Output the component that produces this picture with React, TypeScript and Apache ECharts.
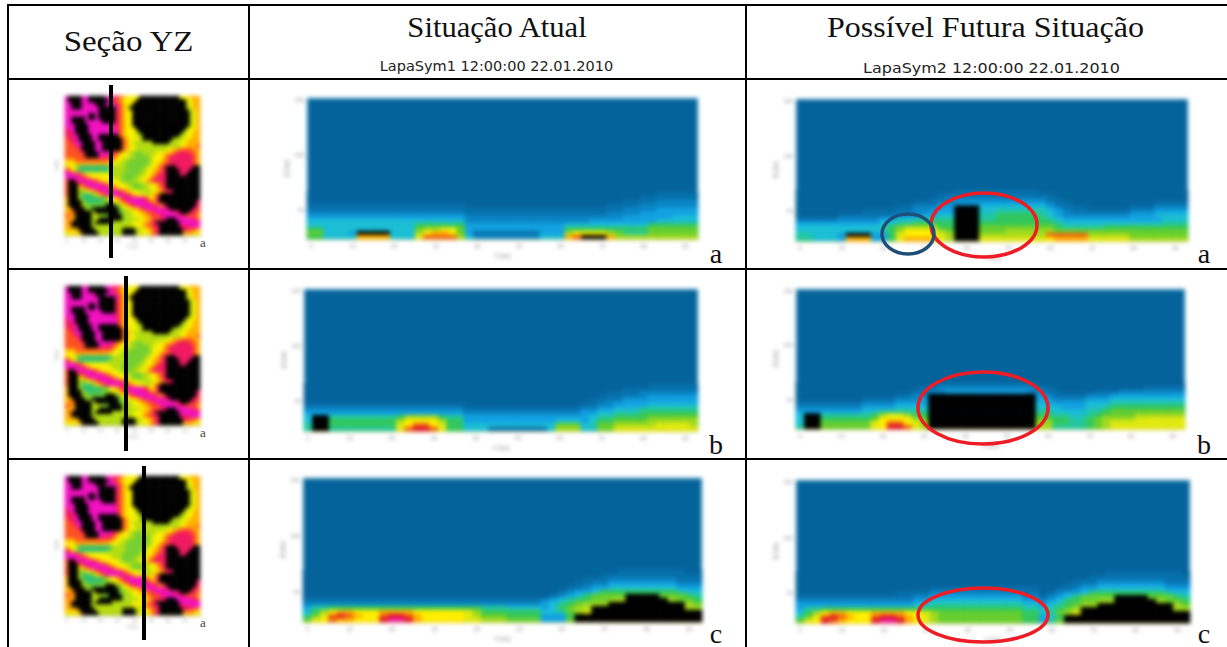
import React, { useEffect, useRef } from "react";
import * as echarts from "echarts";

// Cross-section rows, top to bottom. Each token is a literal run of levels, or "<level>x<count>".
const sectionAtualA = [
  "0x42 1x5",
  "0x40 1x7",
  "0x38 1x4 2x5",
  "1x19 0x17 1x4 2x7",
  "1x38 2x4 3x5",
  "2x19 1x17 2x4 3x7",
  "3x19 2x19 3x6 4x3",
  "4x13 4x6 2x15 3x8 4x5",
  "4x13 6x6 3x12 4x10 6x6",
  "66 4x11 7 8899 7 3x12 6x10 7x6",
  "77 444 3 ffff 4 44 8 abba 7 3 1x8 333 8aaaa8 7 555 7x6",
  "66 444 4 bbbb 4 44 9 cccc 8 4 2x8 444 bcfffb 88 888 8x5",
];
const sectionAtualB = [
  "0x41 1x6",
  "0x38 1x9",
  "0x36 1x4 2x7",
  "0x35 1x3 2x3 3x6",
  "0x34 1x2 2x2 3x9",
  "1x19 0x14 1x2 2x2 3x4 4x6",
  "2x19 1x14 2x2 3x2 4x3 5x7",
  "3x19 2x14 3x2 4x2 5x3 6x7",
  "4ff 5x8 6 8888 6 55 3x15 4 55 6666 777777",
  "4ff 6x8 8 aaaa 8 66 3x11 444 3 4 66 7777 888888",
  "5ff 6x8 9 acca 9 66 4x11 777 4 5 77 8888 899998",
  "5ff 5x8 9 cddc 9 66 444 1x7 4 888 4 4 77 9999 999999",
];
const sectionAtualC = [
  "0x37 1x8 00",
  "0x35 1x12",
  "0x33 1x3 2x8 1x3",
  "0x32 1x2 2x2 3x8 2x3",
  "0x31 1x2 2 3x2 4x8 3x3",
  "0x30 1 2 3x2 4 6x9 5 4x2",
  "0x29 1 2 3 4 6 7777 ffff 777 65",
  "1x28 2 3 4 5 667788 fffff 8776",
  "2x28 3 4 5 6 7 88 8 fx9 87",
  "3 55 6x18 5x3 4x4 3 4 6 7 8 8 fx11 88",
  "468 abb aaa bbbb aaaaaa 98 6x7 44 5 7 89 fx13",
  "579 cdc baa cddc baaaaa 98 7776666 333 6 fx15",
  "79a cbb aaa deed baaaaa 99 8887777 333 7 fx15",
];
const sectionFuturaA = [
  "0x19 1x10 0x18",
  "0x17 1x14 0x16",
  "0x16 1x2 2x12 1x2 0x15",
  "0x14 1x3 2x2 3x11 2 1x2 0x10 1x4",
  "0x12 1x2 2x3 3x2 fff 4x8 3 2 1x3 0x5 1x3 2x4",
  "0x8 1x6 2x2 3x3 fff 4x2 5x6 4 3 2 1x7 2x3 3x4",
  "0x5 1x7 2x3 3x2 4x2 fff 5x2 6x5 5 4 3 2x8 3x3 4x4",
  "1x5 2x5 33 444 5555 fff 55 6x6 5 4 3x12 444",
  "3x10 44 55 66666 fff 6x8 6 5 4x12 555",
  "4x10 5 6 7 8888 6 6 fff 7x8 7 6 5x5 6x10",
  "4x11 6 8 aaaa 8 7 fff 777 8x5 8 7x6 7x10",
  "55 444 3 fff 33 6 9 aaaa 9 8 fff 8x8 c cccc 8x5 7x7",
  "55 444 3 bbb 33 6 9 bbbb 9 8 fff 9x8 a bbbb 9x5 8x7",
];
const sectionFuturaB = [
  "0x17 1x12 0x18",
  "0x15 1x2 2x12 1x2 0x11 1x5",
  "0x14 1x2 2x2 3x10 2x2 1x2 0x4 1x3 2x8",
  "0x12 1x2 2x2 fx13 3 2 1x4 2x3 3x9",
  "0x8 1x4 2x3 3 fx13 3x2 2x2 2x2 3x3 4x9",
  "1x8 2x4 3x3 3 fx13 4 3x3 3x2 4x3 5x9",
  "2x8 3x4 4x3 4 fx13 4x3 3x3 4x2 5 6x9",
  "3x8 4x2 5x2 5x3 5 fx13 5x2 4x4 5x2 6 7x9",
  "4ff 5x6 6 8 9 9 8 6x2 fx13 6x2 5x2 4x2 5 6 7 7x3 8x6",
  "4ff 6x6 7 aaaa 8 7 fx13 7x2 6x2 5x2 6 7 8 8x3 9x6",
  "4ff 7x6 9 a c c a 9 8 fx13 8x2 6x2 5x2 6 7 8 9x9",
  "5ff 7x6 9 a d d c 9 8 fx13 8x2 5x4 6 7 8 9x9",
];
const sectionFuturaC = [
  "0x37 1x9 0",
  "0x35 1x12",
  "0x33 1x3 2x8 1x3",
  "0x32 1x2 2x2 3x8 2x3",
  "0x16 1x13 0x2 1x2 2 3x2 4x8 3x3",
  "0x12 1x4 2x11 1x2 0 1 2 3x2 4 6x9 5 4x2",
  "1x14 2x2 3x11 2x2 1 2 3 4 6 7x4 fx4 7x3 6 5",
  "2x14 3x2 4x11 3x2 2 3 4 667788 fx5 8776",
  "3x14 4x2 5x11 4x2 3 4 5 6 788 fx9 87",
  "3 55 6x24 5x2 4 5 6 7 8 fx11 88",
  "468 abb aaa bbbb aa 98 7x10 66 4 5 7 89 fx13",
  "579 cdc baa cddc ba 98 7x10 66 3 4 6 fx15",
  "79a dcb aaa deed ba 98 7x10 66 3 5 7 fx15",
];

// Plan view shared by the three left-hand cells, rows top to bottom.
const planRows = [
  "m####mm#####mmppro yyyy #x12 yyy ooo",
  "m####mm######mpro yyyy #x15 yy oo",
  "mm###mmmm###mmmpro yy #x16 ly oo",
  "mm###mmmmm#####mro y #x17 ly oo",
  "mmmmmmmmmm#####pro yy #x17 lyo",
  "mmmmmmm##m#####pro yy #x17 lyo",
  "mm####m##m#####pro yy #x17 lyo",
  "mm####mmmmm####pro yy #x17 lyo",
  "mmm####mmmmmmmmpro yy #x17 lyo",
  "pmm####mmmmmmmmpro yyy #x15 lyyo",
  "ppm####mmmmmmmmmro yyyl #x13 lyyoo",
  "pppm####mm######ro yyyll #x11 llyyoo",
  "rppm####mm#######ro yyyl #x9 lllyyooo",
  "rrpmm####mm######ro yllllll #x5 lllyyoooo",
  "rrrpm####mm######ro yyllllllllllll lyyooo r",
  "rrrrp####mm######ro yylllllllllyyoorrrroo",
  "rrrrrp####mmmmpro yylgggllllyyyoorpppprroo",
  "rrrrrr####mpppro yyyllgggglyyyorpppppppro",
  "ooorrrrrrrrrrro yyllggggggl yyy o r ppppppp r o",
  "yyyoooooooooo yyy llgggggggl yy o rr ppppppp r o",
  "oyyl tx10 llll gggggg l yy o r p ### ppppp ##",
  "pryl tx9 lllll ggggg l yy oo r p #### ppp ###",
  "mmmproyyyyyyyllll ggggg ll yy o r pp #### pp ####",
  "mmmmmproyyyyyylll gggg ll yy o r ppp #x10",
  "r##pmmmmproyyyyyl ggg ll yy o r pppp #x10",
  "r###rpmmmmmproyyy yllgggllyyorp #x10",
  "r###yorpmmmmmproy yylgggllyyorp #x10",
  "r###lgyyorpmmmmmp royyyllllyyorpp #x9",
  "r###ltttgyorpmmmm mpro yyy l yo r #x12",
  "o###lttttttggyyor pmmmmmpryop #x12",
  "o####ltttttgglyyo rpmmmmmprop #x11 p",
  "o####lgggggg###gl yor pmmmmmp rop #x9 p",
  "oo####lg########g lyyoor pmmmmmp p #x7 pr",
  "oor#####l#######g gllyyoorr pmmmmmp p ### ppr",
  "rro#####lllgg#### lllyyyoorrr pmmmmmp prrro",
  "ooo#####ll####### gllllyyoopr pp ### mmmmm pr",
  "or######l#####lll lllyyyoorp #x7 mmmmmm",
  "oo######lllllllll lllyyyorrpp #x6 pppmmm",
  "oooo#####llllllll #### llyyorp #x7 pprro",
  "yyyyo#####lllllll #### lyyyorp #x7 oooyy",
];

const sectionLevels = "0123456789abcdef";
const sectionColors = ["#05639b", "#0670ab", "#0a86c6", "#12a2e2", "#1bbfd6", "#22c8a0", "#33c85c", "#66cf2e", "#a4da1e", "#e2ea10", "#ffee00", "#ffb000", "#f06010", "#e01030", "#f020a0", "#000000"];
const planLevels = "tglyorpm#";
const planColors = ["#30c070", "#74cf30", "#b4dc10", "#f8f000", "#ffb000", "#ff5020", "#f01860", "#f310c0", "#000000"];

const yMeterLabels = ["0", "10", "20", "30", "40", "50", "60", "70", "80", "90"];
const zTickLabels: Record<number, string> = { 7: "50", 21: "100", 35: "150" };
const planXLabels = ["0", "10", "20", "30", "40", "50", "60", "70", "80"];
const planYLabels = ["0", "10", "20", "30", "40", "50", "60", "70", "80"];

const titles = [
  { text: "Seção YZ", x: 128.5, y: 41, size: 30, stretch: 1.1 },
  { text: "Situação Atual", x: 497, y: 27, size: 30, stretch: 1.02 },
  { text: "Possível Futura Situação", x: 985.5, y: 27, size: 30, stretch: 1.07 },
];
const subtitles = [
  { text: "LapaSym1 12:00:00 22.01.2010", x: 496.5, y: 66, stretch: 1 },
  { text: "LapaSym2 12:00:00 22.01.2010", x: 991.5, y: 68, stretch: 1.1 },
];
const cornerLetters = [
  { text: "a", x: 716, y: 253 }, { text: "a", x: 1204, y: 253 },
  { text: "b", x: 716, y: 444 }, { text: "b", x: 1204, y: 444 },
  { text: "c", x: 716, y: 633 }, { text: "c", x: 1204, y: 633 },
];
const sectionLines = [
  { x: 111, y1: 85, y2: 258 },
  { x: 126, y1: 276, y2: 451 },
  { x: 144, y1: 466, y2: 640 },
];
const mapLetters = [
  { x: 203, y: 242 }, { x: 203, y: 432 }, { x: 203, y: 622 },
];
const ringMarks = [
  { cx: 984, cy: 225, rx: 53, ry: 32, color: "#ee1c25" },
  { cx: 908, cy: 234, rx: 26, ry: 20, color: "#1f4e79" },
  { cx: 983, cy: 408, rx: 65, ry: 36, color: "#ee1c25" },
  { cx: 983, cy: 615, rx: 65, ry: 27, color: "#ee1c25" },
];
const rulesH = [5, 79, 269, 459];
const rulesV = [8, 249, 746];

const sectionBoxes = [
  { rows: sectionAtualA, left: 307, top: 98, width: 391, height: 141 },
  { rows: sectionFuturaA, left: 796, top: 99, width: 392, height: 142 },
  { rows: sectionAtualB, left: 304, top: 289, width: 394, height: 142 },
  { rows: sectionFuturaB, left: 796, top: 289, width: 389, height: 140 },
  { rows: sectionAtualC, left: 303, top: 478, width: 399, height: 144 },
  { rows: sectionFuturaC, left: 796, top: 480, width: 394, height: 143 },
];
const planBoxes = [
  { left: 65, top: 96, width: 135, height: 139 },
  { left: 65, top: 286, width: 135, height: 139 },
  { left: 65, top: 476, width: 135, height: 139 },
];

function expandRow(row: string): string {
  return row
    .split(" ")
    .map((tok) => {
      const m = tok.match(/^(.)x(\d+)$/);
      return m ? m[1].repeat(Number(m[2])) : tok;
    })
    .join("");
}

function buildCells(rows: string[], levels: string, totalRows: number) {
  const cells: [number, number, number][] = [];
  rows.forEach((row, i) => {
    const rowIndex = rows.length - 1 - i;
    if (rowIndex >= totalRows) return;
    const full = expandRow(row);
    for (let c = 0; c < full.length; c++) {
      const v = levels.indexOf(full[c]);
      if (v >= 0) cells.push([c, rowIndex, v]);
    }
  });
  return cells;
}

const SECTION_COLS = 47;
const SECTION_ROWS = 36;
const PLAN_SIZE = 40;

function heatmapOption() {
  const grid: any[] = [];
  const xAxis: any[] = [];
  const yAxis: any[] = [];
  const series: any[] = [];
  const axisGray = "#9a9a9a";

  sectionBoxes.forEach((b, i) => {
    grid.push({ left: b.left, top: b.top, width: b.width, height: b.height, show: true, backgroundColor: sectionColors[0], borderColor: "#a8dcf0", borderWidth: 1 });
    xAxis.push({
      type: "category", gridIndex: i,
      data: Array.from({ length: SECTION_COLS }, (_, c) => (c % 5 === 0 ? yMeterLabels[c / 5] ?? "" : "")),
      axisLine: { lineStyle: { color: "#d8c060" } },
      axisTick: { alignWithLabel: true, interval: 4, length: 3, lineStyle: { color: axisGray } },
      axisLabel: { interval: 4, fontSize: 5, color: "#777", margin: 4, fontFamily: "DejaVu Sans" },
      name: "Y [m]", nameLocation: "middle", nameGap: 13,
      nameTextStyle: { fontSize: 6, color: "#666", fontFamily: "DejaVu Sans" },
    });
    yAxis.push({
      type: "category", gridIndex: i,
      data: Array.from({ length: SECTION_ROWS }, (_, r) => zTickLabels[r] ?? ""),
      axisLine: { show: false },
      axisTick: { alignWithLabel: true, length: 3, interval: (idx: number) => !!zTickLabels[idx], lineStyle: { color: axisGray } },
      axisLabel: { interval: 0, fontSize: 5, color: "#777", margin: 3, fontFamily: "DejaVu Sans" },
      name: "Z [m]", nameLocation: "middle", nameGap: 18,
      nameTextStyle: { fontSize: 6, color: "#555", fontFamily: "DejaVu Sans" },
    });
    series.push({
      type: "heatmap", xAxisIndex: i, yAxisIndex: i,
      data: buildCells(b.rows, sectionLevels, SECTION_ROWS),
      progressive: 0, silent: true,
    });
  });

  const offset = sectionBoxes.length;
  planBoxes.forEach((b, j) => {
    const i = offset + j;
    grid.push({ left: b.left, top: b.top, width: b.width, height: b.height });
    xAxis.push({
      type: "category", gridIndex: i,
      data: Array.from({ length: PLAN_SIZE }, (_, c) => (c % 5 === 0 ? planXLabels[c / 5] ?? "" : "")),
      axisLine: { lineStyle: { color: "#8a8a40", width: 2 } },
      axisTick: { alignWithLabel: true, interval: 4, length: 3, lineStyle: { color: axisGray } },
      axisLabel: { interval: 4, fontSize: 4, color: "#777", margin: 3, fontFamily: "DejaVu Sans" },
      name: "X [m]", nameLocation: "middle", nameGap: 9,
      nameTextStyle: { fontSize: 4, color: "#777", fontFamily: "DejaVu Sans" },
    });
    yAxis.push({
      type: "category", gridIndex: i,
      data: Array.from({ length: PLAN_SIZE }, (_, r) => (r % 5 === 0 ? planYLabels[r / 5] ?? "" : "")),
      axisLine: { lineStyle: { color: "#999" } },
      axisTick: { alignWithLabel: true, interval: 4, length: 2, lineStyle: { color: axisGray } },
      axisLabel: { show: false },
      name: "Y [m]", nameLocation: "middle", nameGap: 7,
      nameTextStyle: { fontSize: 4, color: "#777", fontFamily: "DejaVu Sans" },
    });
    series.push({
      type: "heatmap", xAxisIndex: i, yAxisIndex: i,
      data: buildCells(planRows, planLevels, PLAN_SIZE),
      progressive: 0, silent: true,
    });
  });

  return {
    animation: false,
    backgroundColor: "#ffffff",
    grid, xAxis, yAxis, series,
    visualMap: [
      { type: "continuous", show: false, min: 0, max: sectionColors.length - 1, dimension: 2, seriesIndex: sectionBoxes.map((_, i) => i), inRange: { color: sectionColors } },
      { type: "continuous", show: false, min: 0, max: planColors.length - 1, dimension: 2, seriesIndex: planBoxes.map((_, j) => offset + j), inRange: { color: planColors } },
    ],
  };
}

function tableOption() {
  const g: any[] = [];
  const black = "#000000";
  rulesH.forEach((y) => g.push({ type: "line", shape: { x1: rulesV[0] - 1, y1: y, x2: 1227, y2: y }, style: { stroke: black, lineWidth: 2 } }));
  rulesV.forEach((x) => g.push({ type: "line", shape: { x1: x, y1: rulesH[0] - 1, x2: x, y2: 647 }, style: { stroke: black, lineWidth: 2 } }));
  sectionLines.forEach((l) => g.push({ type: "line", shape: { x1: l.x, y1: l.y1, x2: l.x, y2: l.y2 }, style: { stroke: black, lineWidth: 4 } }));
  ringMarks.forEach((r) => g.push({ type: "ellipse", shape: { cx: r.cx, cy: r.cy, rx: r.rx, ry: r.ry }, style: { fill: "none", stroke: r.color, lineWidth: 3.5 } }));
  const serif = "'Liberation Serif', serif";
  titles.forEach((t) => g.push({ type: "text", x: t.x, y: t.y, scaleX: t.stretch, style: { text: t.text, font: `${t.size}px ${serif}`, fill: "#111", textAlign: "center", textVerticalAlign: "middle" } }));
  subtitles.forEach((t) => g.push({ type: "text", x: t.x, y: t.y, scaleX: t.stretch, style: { text: t.text, font: "14.5px 'DejaVu Sans', sans-serif", fill: "#222", textAlign: "center", textVerticalAlign: "middle" } }));
  cornerLetters.forEach((t) => g.push({ type: "text", x: t.x, y: t.y, style: { text: t.text, font: `28px ${serif}`, fill: "#111", textAlign: "center", textVerticalAlign: "middle" } }));
  mapLetters.forEach((t) => g.push({ type: "text", x: t.x, y: t.y, style: { text: "a", font: `13px ${serif}`, fill: "#444", textAlign: "center", textVerticalAlign: "middle" } }));
  return { animation: false, backgroundColor: "transparent", graphic: g };
}

export default function App() {
  const lower = useRef<HTMLDivElement>(null);
  const upper = useRef<HTMLDivElement>(null);
  useEffect(() => {
    const a = echarts.init(lower.current!, undefined, { renderer: "svg" });
    const b = echarts.init(upper.current!, undefined, { renderer: "svg" });
    a.setOption(heatmapOption() as any);
    b.setOption(tableOption() as any);
    return () => {
      a.dispose();
      b.dispose();
    };
  }, []);
  const box: React.CSSProperties = { position: "absolute", left: 0, top: 0, width: 1227, height: 647 };
  return (
    <div style={{ position: "absolute", left: 0, top: 0, width: 1227, height: 647, overflow: "hidden", background: "#fff" }}>
      <div ref={lower} style={{ ...box, filter: "blur(1.9px)" }} />
      <div ref={upper} style={box} />
    </div>
  );
}
